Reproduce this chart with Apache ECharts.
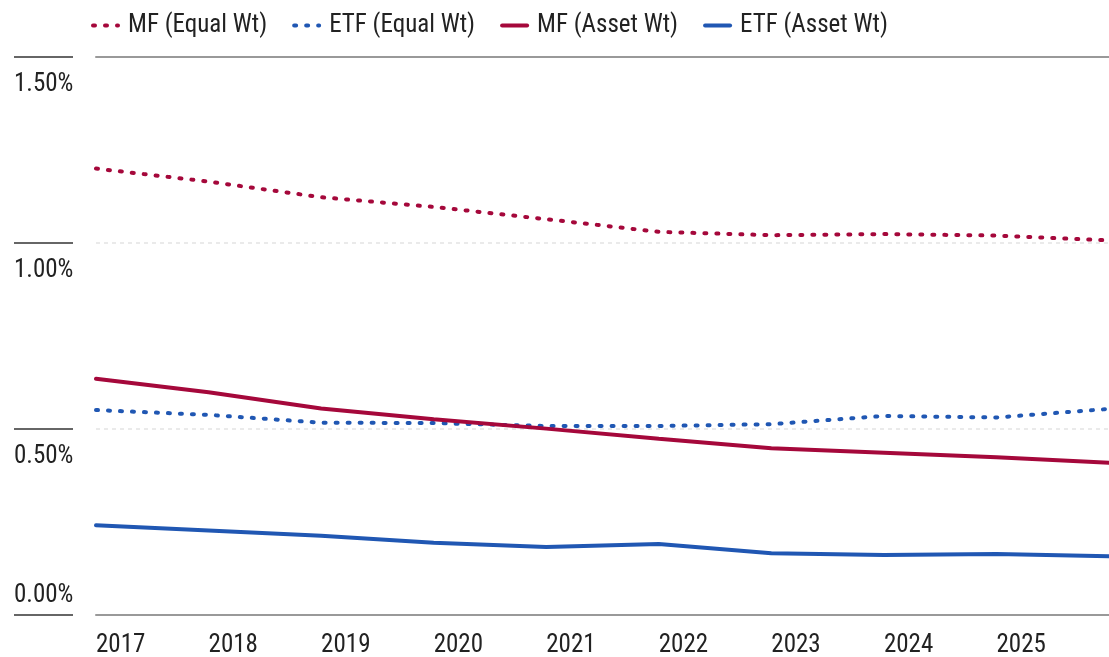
<!DOCTYPE html>
<html>
<head>
<meta charset="utf-8">
<script src="https://cdn.jsdelivr.net/npm/echarts@6/dist/echarts.min.js"></script>
<style>html,body{margin:0;padding:0;background:#fff;}#c{width:1109px;height:657px;}</style>
</head>
<body>
<div id="c"></div>
<script>
const categories = ['2017','2018','2019','2020','2021','2022','2023','2024','2025','2026'];
const yTicks = [0, 0.5, 1.0, 1.5];
const mfEqual  = [1.200, 1.165, 1.123, 1.097, 1.064, 1.030, 1.021, 1.024, 1.020, 1.007];
const etfEqual = [0.551, 0.538, 0.517, 0.516, 0.508, 0.508, 0.513, 0.535, 0.531, 0.554];
const mfAsset  = [0.635, 0.599, 0.555, 0.526, 0.501, 0.474, 0.448, 0.436, 0.424, 0.409];
const etfAsset = [0.241, 0.227, 0.213, 0.194, 0.183, 0.191, 0.166, 0.161, 0.164, 0.158];

const RED = '#a5083b';
const BLUE = '#2057b3';
const FONT = "'Liberation Sans Narrow', 'Roboto Condensed', 'DejaVu Sans Condensed', 'Arial Narrow', sans-serif";
const dotted = [2, 10];

const chart = echarts.init(document.getElementById('c'), null, {renderer: 'canvas'});
function mk(name, data, color, type) {
  return {
    name, type: 'line', data, symbol: 'none', smooth: false,
    lineStyle: {color, width: 4, type, cap: 'round'},
    itemStyle: {color},
    emphasis: {disabled: true}
  };
}
chart.setOption({
  animation: false,
  textStyle: {fontFamily: FONT},
  legend: {
    left: 91, top: 13, padding: 0, itemGap: 25, itemWidth: 25, itemHeight: 12,
    itemStyle: {opacity: 0},
    lineStyle: {width: 4},
    textStyle: {fontFamily: FONT, fontSize: 25, color: '#222', padding: [0, 0, 0, 5]},
    data: ['MF (Equal Wt)', 'ETF (Equal Wt)', 'MF (Asset Wt)', 'ETF (Asset Wt)']
  },
  grid: {left: 96, right: 0, top: 57, bottom: 42, containLabel: false, outerBoundsMode: 'none'},
  xAxis: [{
    type: 'category', data: categories, boundaryGap: false, position: 'bottom',
    axisLine: {show: true, lineStyle: {color: '#999', width: 2}},
    axisTick: {show: false},
    axisLabel: {
      fontFamily: FONT, fontSize: 25, color: '#222', align: 'left', margin: 18,
      interval: 0,
      formatter: (v, i) => i === categories.length - 1 ? '' : v
    },
    splitLine: {show: false}
  }, {
    type: 'category', data: categories, boundaryGap: false, position: 'top',
    axisLine: {show: true, lineStyle: {color: '#999', width: 2}},
    axisTick: {show: false}, axisLabel: {show: false}, splitLine: {show: false}
  }],
  yAxis: {
    type: 'value', min: 0, max: 1.5, interval: 0.5, position: 'left', offset: 23,
    axisLine: {show: false},
    axisTick: {show: true, length: 59, lineStyle: {color: '#666', width: 2}},
    axisLabel: {
      fontFamily: FONT, fontSize: 25, color: '#222', align: 'left', margin: 59,
      formatter: v => v === 0
        ? ('{z|' + v.toFixed(2) + '%}\n{z|\u00a0}')
        : ('{n|\u00a0}\n{n|' + v.toFixed(2) + '%}'),
      rich: {
        n: {fontFamily: FONT, fontSize: 25, color: '#222', lineHeight: 56},
        z: {fontFamily: FONT, fontSize: 25, color: '#222', lineHeight: 38}
      }
    },
    splitLine: {show: true, lineStyle: {color: '#e4e4e4', width: 1.5, type: [4, 4]}}
  },
  series: [
    mk('MF (Equal Wt)', mfEqual, RED, dotted),
    mk('ETF (Equal Wt)', etfEqual, BLUE, dotted),
    mk('MF (Asset Wt)', mfAsset, RED, 'solid'),
    mk('ETF (Asset Wt)', etfAsset, BLUE, 'solid')
  ]
});
</script>
</body>
</html>
